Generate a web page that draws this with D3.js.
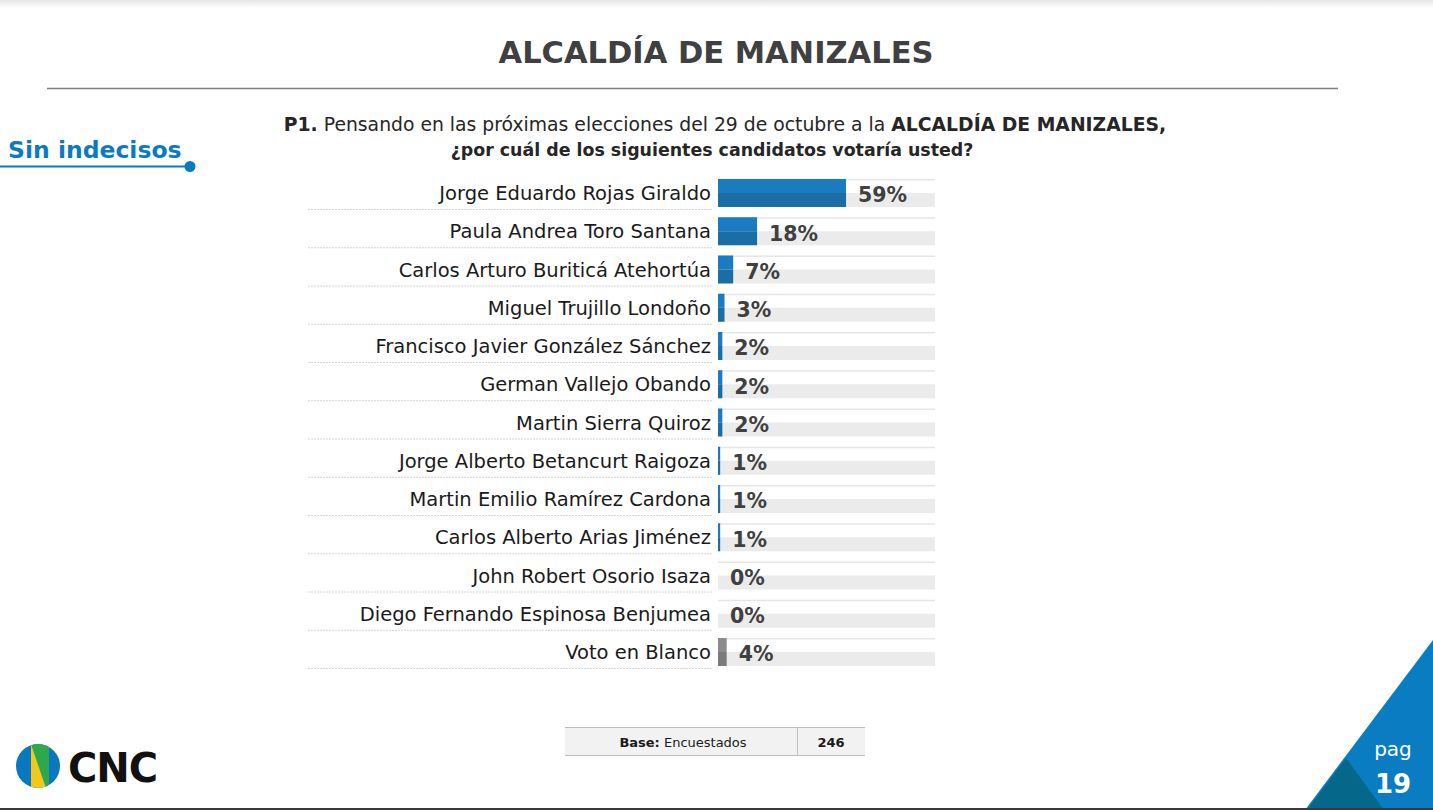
<!DOCTYPE html>
<html><head><meta charset="utf-8">
<script src="https://cdn.jsdelivr.net/npm/d3@7"></script>
<style>body{margin:0;background:#fff;}svg{display:block;font-family:"DejaVu Sans",sans-serif;}</style>
</head><body>
<script>
const categories = ["Jorge Eduardo Rojas Giraldo","Paula Andrea Toro Santana","Carlos Arturo Buriticá Atehortúa","Miguel Trujillo Londoño","Francisco Javier González Sánchez","German Vallejo Obando","Martin Sierra Quiroz","Jorge Alberto Betancurt Raigoza","Martin Emilio Ramírez Cardona","Carlos Alberto Arias Jiménez","John Robert Osorio Isaza","Diego Fernando Espinosa Benjumea","Voto en Blanco"];
const values = [59,18,7,3,2,2,2,1,1,1,0,0,4];
const blankCategory = "Voto en Blanco";
const xTicks = [0,100];
const baseLabel = "Encuestados";
const baseN = 246;

const W=1433,H=810;
const svg=d3.select("body").append("svg").attr("width",W).attr("height",H);

const defs=svg.append("defs");
const g0=defs.append("linearGradient").attr("id","topg").attr("x1",0).attr("x2",0).attr("y1",0).attr("y2",1);
g0.append("stop").attr("offset",0).attr("stop-color","#e6e6e6");
g0.append("stop").attr("offset",1).attr("stop-color","#ffffff");
svg.append("rect").attr("x",0).attr("y",0).attr("width",W).attr("height",8).attr("fill","url(#topg)");

// title
svg.append("text").attr("x",716).attr("y",63).attr("text-anchor","middle")
  .attr("font-size",30.5).attr("font-weight","bold").attr("fill","#404040").text("ALCALDÍA DE MANIZALES");
svg.append("line").attr("x1",47).attr("x2",1338).attr("y1",88.5).attr("y2",88.5).attr("stroke","#7f7f7f").attr("stroke-width",1.5);

// Sin indecisos
svg.append("text").attr("x",8).attr("y",158).attr("font-size",23.5).attr("font-weight","bold").attr("fill","#0b7bc1").text("Sin indecisos");
svg.append("line").attr("x1",0).attr("x2",190).attr("y1",166.5).attr("y2",166.5).attr("stroke","#0b7bc1").attr("stroke-width",2);
svg.append("circle").attr("cx",190).attr("cy",166.5).attr("r",5.5).attr("fill","#0b7bc1");

// question
const q1=svg.append("text").attr("x",725).attr("y",131).attr("text-anchor","middle").attr("font-size",18.8).attr("fill","#262626");
q1.append("tspan").attr("font-weight","bold").text("P1.");
q1.append("tspan").text(" Pensando en las próximas elecciones del 29 de octubre a la ");
q1.append("tspan").attr("font-weight","bold").text("ALCALDÍA DE MANIZALES,");
svg.append("text").attr("x",712).attr("y",156).attr("text-anchor","middle").attr("font-size",17.4).attr("font-weight","bold").attr("fill","#262626")
  .text("¿por cuál de los siguientes candidatos votaría usted?");

// scales
const x=d3.scaleLinear().domain([xTicks[0],xTicks[1]]).range([718,935]);
const y=d3.scaleBand().domain(categories).range([174,174+13*38.25]);
const barTop=5, barH=28;

const rows=svg.append("g").selectAll("g").data(categories).join("g")
  .attr("transform",d=>`translate(0,${y(d)})`);

rows.append("rect").attr("x",x(0)).attr("y",barTop).attr("width",x(100)-x(0)).attr("height",1.5).attr("fill","#e6e6e6");
rows.append("rect").attr("x",x(0)).attr("y",barTop+barH/2).attr("width",x(100)-x(0)).attr("height",barH/2).attr("fill","#ebebeb");

rows.append("rect").attr("x",x(0)).attr("y",barTop).attr("height",barH/2)
  .attr("width",(d,i)=>x(values[i])-x(0)).attr("fill",d=>d===blankCategory?"#8c8c8c":"#1a7bc0");
rows.append("rect").attr("x",x(0)).attr("y",barTop+barH/2).attr("height",barH/2)
  .attr("width",(d,i)=>x(values[i])-x(0)).attr("fill",d=>d===blankCategory?"#7b7b7b":"#1b6da6");

rows.append("line").attr("x1",308).attr("x2",713).attr("y1",barTop+barH+2.5).attr("y2",barTop+barH+2.5)
  .attr("stroke","#d4d4d4").attr("stroke-width",1).attr("stroke-dasharray","2,1");

rows.append("text").attr("x",711).attr("y",barTop+barH/2).attr("dy","0.36em").attr("text-anchor","end")
  .attr("font-size",19.5).attr("fill","#1a1a1a").text(d=>d);
rows.append("text").attr("x",(d,i)=>x(values[i])+12).attr("y",barTop+barH/2+2).attr("dy","0.36em")
  .attr("font-size",20.5).attr("font-weight","bold").attr("fill","#404040").text((d,i)=>values[i]+"%");

// base table
const bt=svg.append("g");
bt.append("rect").attr("x",565).attr("y",727).attr("width",300).attr("height",29).attr("fill","#f2f2f2");
bt.append("line").attr("x1",565).attr("x2",865).attr("y1",727.5).attr("y2",727.5).attr("stroke","#bfbfbf");
bt.append("line").attr("x1",565).attr("x2",865).attr("y1",755.5).attr("y2",755.5).attr("stroke","#bfbfbf");
bt.append("line").attr("x1",797.5).attr("x2",797.5).attr("y1",727).attr("y2",756).attr("stroke","#bfbfbf");
const bl=bt.append("text").attr("x",683).attr("y",747).attr("text-anchor","middle").attr("font-size",13).attr("fill","#1a1a1a");
bl.append("tspan").attr("font-weight","bold").text("Base:");
bl.append("tspan").text("  "+baseLabel);
bt.append("text").attr("x",831).attr("y",747).attr("text-anchor","middle").attr("font-size",13).attr("font-weight","bold").attr("fill","#1a1a1a").text(baseN);

// logo
const lg=svg.append("g");
defs.append("clipPath").attr("id","lc").append("circle").attr("cx",38).attr("cy",766).attr("r",22);
const lc=lg.append("g").attr("clip-path","url(#lc)");
lc.append("rect").attr("x",16).attr("y",744).attr("width",44).attr("height",44).attr("fill","#0a78be");
lc.append("path").attr("d","M31,744 L49,744 L49,788 L46,788 Z").attr("fill","#2ea84a");
lc.append("path").attr("d","M31,744 L46,788 L31,788 Z").attr("fill","#f2c81b");
svg.append("text").attr("x",68).attr("y",782).attr("font-size",40).attr("font-weight","bold").attr("fill","#111").attr("letter-spacing",-1).text("CNC");

// corner triangles
svg.append("path").attr("d","M1433,640 L1305,810 L1433,810 Z").attr("fill","#0a7dc2");
svg.append("path").attr("d","M1346,758 L1307,810 L1384,810 Z").attr("fill","#05688a");
svg.append("text").attr("x",1393).attr("y",756).attr("text-anchor","middle").attr("font-size",20).attr("fill","#fff").text("pag");
svg.append("text").attr("x",1393).attr("y",793).attr("text-anchor","middle").attr("font-size",26).attr("font-weight","bold").attr("fill","#fff").text("19");

svg.append("rect").attr("x",0).attr("y",808).attr("width",W).attr("height",2).attr("fill","#3a3a3a");
</script>
</body></html>
